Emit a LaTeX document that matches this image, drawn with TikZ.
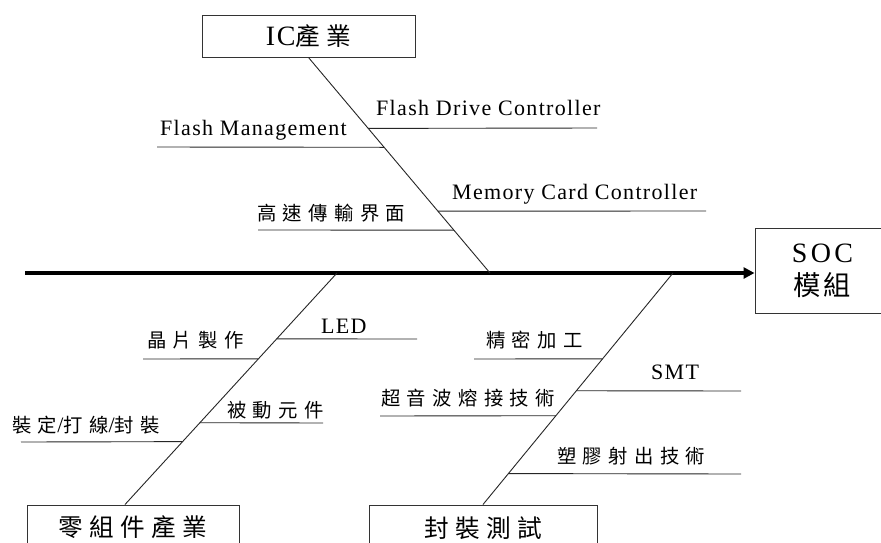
\documentclass[tikz,border=0pt]{standalone}
\usepackage{fontspec}
\setmainfont{Liberation Serif}[LetterSpace=6]
\newfontfamily\cjk{Noto Sans CJK TC}[LetterSpace=33,Scale=0.88]
\newfontfamily\cjkb{Noto Sans CJK TC}[LetterSpace=26,Scale=0.88]
\usetikzlibrary{arrows.meta,calc}
\begin{document}
\begin{tikzpicture}[x=1pt,y=-1pt,
  lbl/.style={inner sep=0pt, anchor=base west, font=\fontsize{22}{26}\selectfont},
  boxnode/.style={draw=black!80, line width=1pt, inner sep=0pt, align=center, font=\fontsize{28}{33}\selectfont},
  bone/.style={line width=0.9pt, draw=black!85},
  spine/.style={line width=3.5pt, -{Triangle[length=11pt,width=11pt]}}]
\useasboundingbox (0,0) rectangle (881,542);
\clip (0,0) rectangle (881,542);
\fill[white] (0,0) rectangle (881,542);

% boxes
\node[boxnode, minimum width=213pt, minimum height=42pt] (ic) at (308.5,36) {IC{\cjkb 產業}};
\node[boxnode, minimum width=212pt, minimum height=45pt] (comp) at (133,527.5) {\cjkb 零組件產業};
\node[boxnode, minimum width=228pt, minimum height=47pt] (pkg) at (483,528.5) {\cjkb 封裝測試};
\node[boxnode, minimum width=135pt, minimum height=85pt] (soc) at (822.5,270.5)
  {{\addfontfeatures{LetterSpace=12}SOC}\\{\cjkb\fontsize{31}{33}\selectfont 模\hspace{3pt}組}};

% spine
\coordinate (tail) at (25,273);
\draw[spine] (tail) -- (tail -| soc.west);
\coordinate (j1) at (490,273);
\coordinate (j2) at (337,273);
\coordinate (j3) at (673,273);

% main bones
\draw[bone] (ic.south) -- (j1);
\draw[bone] (j2) -- ([xshift=-8pt]comp.north);
\draw[bone] (j3) -- (pkg.north);

% points on bones
\path (ic.south) -- (j1)
  coordinate[pos=0.329] (a1) coordinate[pos=0.4167] (a2)
  coordinate[pos=0.713] (a3) coordinate[pos=0.801] (a4);
\path (j2) -- ([xshift=-8pt]comp.north)
  coordinate[pos=0.2845] (b1) coordinate[pos=0.3707] (b2)
  coordinate[pos=0.6466] (b3) coordinate[pos=0.7284] (b4);
\path (j3) -- (pkg.north)
  coordinate[pos=0.3707] (c1) coordinate[pos=0.5086] (c2)
  coordinate[pos=0.6164] (c3) coordinate[pos=0.8664] (c4);

% free ends
\coordinate (e1) at (597,128);
\coordinate (e2) at (157,147);
\coordinate (e3) at (706,211);
\coordinate (e4) at (258,230);
\coordinate (f1) at (417,339);
\coordinate (f2) at (143,359);
\coordinate (f3) at (323,423);
\coordinate (f4) at (21,442);
\coordinate (g1) at (474,359);
\coordinate (g2) at (741,391);
\coordinate (g3) at (380,416);
\coordinate (g4) at (741,474);

\draw[bone] (a1) -- (e1);
\draw[bone] (e2) -- (a2);
\draw[bone] (a3) -- (e3);
\draw[bone] (e4) -- (a4);
\draw[bone] (b1) -- (f1);
\draw[bone] (f2) -- (b2);
\draw[bone] (b3) -- (f3);
\draw[bone] (f4) -- (b4);
\draw[bone] (g1) -- (c1);
\draw[bone] (c2) -- (g2);
\draw[bone] (g3) -- (c3);
\draw[bone] (c4) -- (g4);

% labels
\node[lbl] (t1) at (376,115) {Flash Drive Controller};
\node[lbl] (t2) at (160,135) {Flash Management};
\node[lbl] (t3) at (452,199) {Memory Card Controller};
\node[lbl] (t4) at (257,220) {\cjk 高速傳輸界面};
\node[lbl] (t5) at (321,333) {LED};
\node[lbl] (t6) at (147,347) {\cjk 晶片製作};
\node[lbl] (t7) at (227,417) {\cjk 被動元件};
\node[lbl] (t8) at (12,432) {{\cjk 裝定}/{\cjk 打線}/{\cjk 封裝}};
\node[lbl] (t9) at (486,347) {\cjk 精密加工};
\node[lbl] (t10) at (651,379) {SMT};
\node[lbl] (t11) at (381,405) {\cjk 超音波熔接技術};
\node[lbl] (t12) at (557,463) {\cjk 塑膠射出技術};
\end{tikzpicture}
\end{document}
